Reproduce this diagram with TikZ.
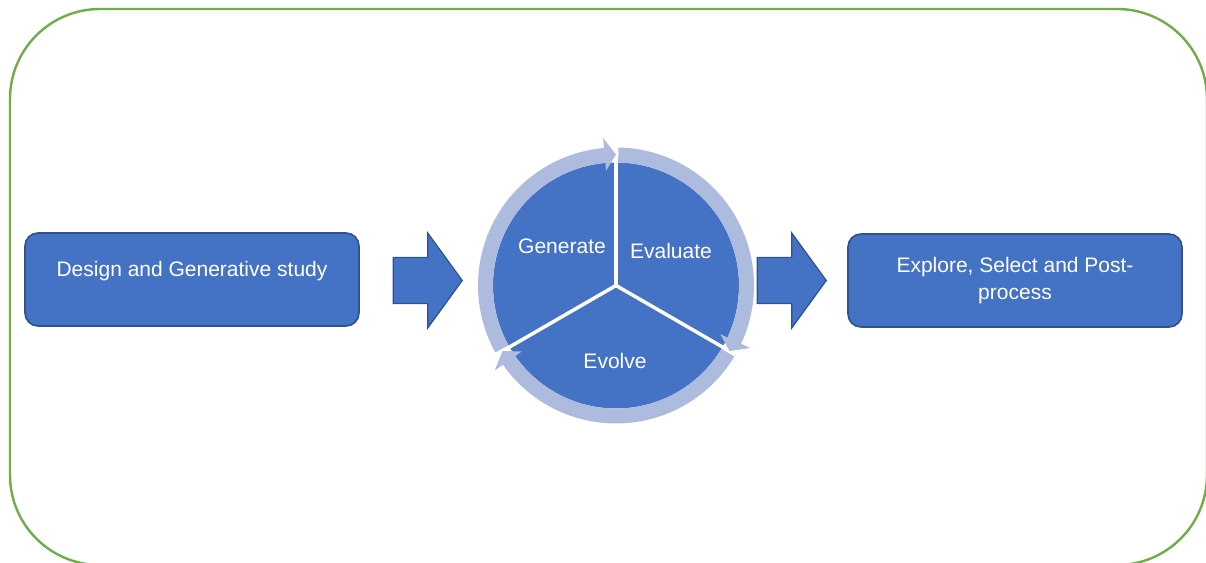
\documentclass[tikz,border=0pt]{standalone}
\usepackage{fontspec}
\setmainfont{Liberation Sans}
\definecolor{boxblue}{RGB}{68, 114, 196}
\definecolor{boxedge}{RGB}{47, 82, 143}
\definecolor{ringblue}{RGB}{173, 187, 222}
\definecolor{framegreen}{RGB}{112, 173, 71}
\usetikzlibrary{shapes.arrows}

\begin{document}
\begin{tikzpicture}[
  x=1pt, y=1pt,
  stagebox/.style={draw=boxedge, fill=boxblue, line width=1.6pt, rounded corners=13pt, minimum width=334pt, minimum height=93pt, align=center, text=white, font=\fontsize{21}{27}\selectfont, inner sep=0pt},
  flowarrow/.style={single arrow, draw=boxedge, fill=boxblue, line width=1.2pt, minimum height=69pt, text height=22.5pt, text depth=22.5pt, text width=0pt, single arrow head extend=24.5pt, single arrow tip angle=108, inner sep=0pt, anchor=tip},
  steplabel/.style={text=white, font=\fontsize{21}{27}\selectfont, inner sep=0pt}
]
  \useasboundingbox (0,0) rectangle (1206,562);
  \draw[framegreen, line width=2.4pt, rounded corners=90pt] (10,-3) rectangle (1207,553);

  \node[stagebox] (design) at (192,282.5) {Design and Generative study\\[-6pt]\mbox{}};
  \node[flowarrow] (arrowin) at (463,281.5) {};
  \node[flowarrow] (arrowout) at (827,281.5) {};
  \node[stagebox] (explore) at (1015,281.5) {Explore, Select and Post-\\process};

  % cycle of the three steps
  \begin{scope}[shift={(616,276.5)}]
    \fill[boxblue] (0,0) circle[radius=123];
    \foreach \a in {90, -30, 210}
      \draw[white, line width=3.5pt] (0,0) -- (\a:126);
    \foreach \s/\e in {209/90, 89/-30, -31/-150}
      \fill[ringblue] (\s:138) arc[start angle=\s, end angle=\e+5, radius=138]
        -- (\e+5:148) -- (\e:131) -- (\e+5:115) -- (\e+5:123)
        arc[start angle=\e+5, end angle=\s, radius=123] -- cycle;
  \end{scope}

  \node[steplabel] (generate) at (562,316) {Generate};
  \node[steplabel] (evaluate) at (671,311) {Evaluate};
  \node[steplabel] (evolve) at (615,201) {Evolve};
\end{tikzpicture}
\end{document}
